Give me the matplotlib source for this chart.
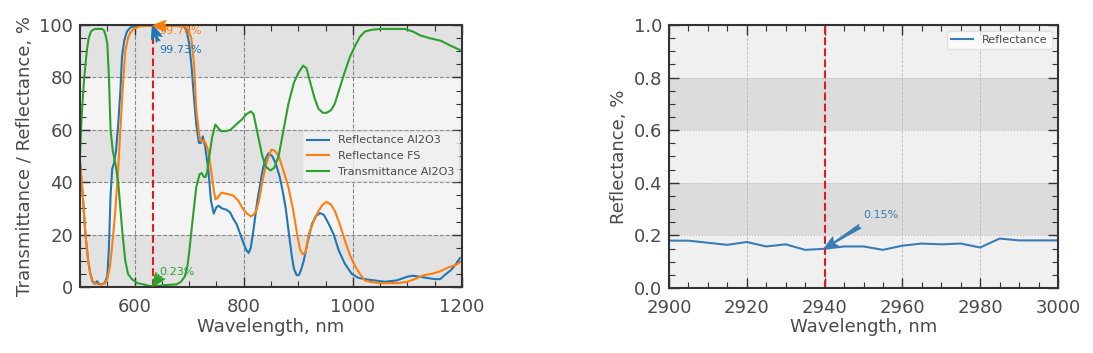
import matplotlib
matplotlib.use("Agg")
import matplotlib.pyplot as plt
from matplotlib.ticker import MultipleLocator

# ---- data: left panel (visible range) ----
wl_r_al = [500, 505, 510, 515, 519, 523, 527, 531, 535, 540, 545, 550, 553, 556, 559, 562, 566,
           570, 574, 577, 581, 586, 592, 598, 610, 630, 660, 690, 695, 700, 704, 709, 713, 718,
           722, 725, 729, 735, 740, 745, 750, 754, 760, 768, 775, 781, 787, 794, 800, 805, 809,
           813, 818, 825, 835, 840, 845, 852, 859, 866, 872, 877, 883, 888, 892, 897, 901, 905,
           910, 917, 925, 932, 940, 947, 956, 965, 974, 985, 998, 1010, 1022, 1040, 1059, 1080,
           1101, 1110, 1120, 1135, 1150, 1160, 1168, 1180, 1190, 1196]
r_al = [48, 35, 20, 10, 5, 2, 1.2, 2.2, 1.2, 1.0, 1.5, 4, 15, 35, 45, 47, 52,
        62, 75, 88, 94, 97.5, 99, 99.5, 99.7, 99.73, 99.7, 99.5, 98, 93, 85, 72, 62, 55,
        55, 57.5, 54, 45, 33, 28, 30.5, 31, 30, 29.5, 28.5, 26, 24, 20, 16.5, 14, 13,
        15, 22, 33, 45, 49, 51, 50, 47, 42, 36, 30, 20, 12, 7, 4.5, 4.5, 6.5,
        10, 17, 24, 27, 28.2, 27.5, 24, 20, 14, 9, 5, 3.5, 3, 2.5, 2, 2.5,
        4, 4.3, 4, 3.5, 3, 3, 4.5, 6.5, 9, 11]

wl_r_fs = [500, 505, 510, 515, 519, 523, 527, 532, 536, 540, 545, 550, 555, 560, 565, 570, 574,
           578, 583, 588, 592, 598, 610, 630, 660, 690, 698, 704, 709, 713, 719, 723, 726, 730,
           735, 740, 745, 748, 752, 759, 770, 780, 790, 798, 806, 813, 818, 823, 828, 834, 840,
           846, 851, 857, 864, 872, 882, 890, 898, 903, 908, 913, 919, 928, 937, 945, 952, 960,
           967, 976, 985, 995, 1004, 1013, 1022, 1035, 1052, 1070, 1083, 1100, 1113, 1130, 1144,
           1160, 1175, 1190, 1196]
r_fs = [48, 35, 20, 10, 5, 2.5, 1.5, 1.2, 1.0, 1.0, 1.2, 3, 8, 18, 30, 45, 60,
        75, 90, 95, 97, 98.5, 99.5, 99.7, 99.7, 99.6, 98.5, 95, 85, 68, 57, 55.5, 56, 55,
        52, 45, 37, 33.5, 34, 36, 35.5, 35, 33, 30, 28, 27, 27.5, 29, 33, 40, 46,
        50, 52.5, 52, 50, 45, 38, 30, 20, 14.5, 12.5, 13, 20, 25, 29, 31.5, 32.5, 31.5,
        29, 24, 18, 12, 8, 5, 2.5, 1.8, 1.5, 1.5, 1.5, 2, 3, 4.5, 5,
        6, 7.5, 8.5, 9.5]

wl_t_al = [500, 503, 507, 510, 513, 516, 520, 525, 529, 535, 540, 544, 547, 550, 553, 556, 560,
           565, 570, 574, 578, 583, 588, 595, 605, 616, 625, 634, 645, 660, 677, 685, 692, 697,
           701, 706, 713, 719, 723, 727, 730, 733, 737, 742, 748, 752, 758, 767, 776, 786, 797,
           805, 813, 818, 822, 828, 834, 840, 849, 856, 864, 873, 882, 892, 901, 909, 915, 922,
           930, 937, 945, 952, 960, 967, 976, 985, 995, 1004, 1013, 1022, 1035, 1052, 1070,
           1095, 1110, 1124, 1140, 1161, 1180, 1196]
t_al = [50, 65, 78, 85, 91, 95, 97.5, 98.3, 98.5, 98.5, 98.5, 98, 96, 93, 80, 60, 52,
        47, 40, 30, 20, 10, 5, 3, 1.5, 1, 0.5, 0.23, 0.5, 0.8, 1, 2, 4, 8,
        15, 25, 38, 43, 43.5, 42, 42, 44, 50, 57, 62, 61, 59.5, 59.5, 60, 62, 64,
        66, 67, 66, 62, 56, 50, 46, 44.5, 45.5, 50, 60, 70, 78, 82, 84.5, 83.5, 78,
        72, 68, 66.5, 66.5, 67.5, 70, 76, 82, 88, 92, 95.5, 97.5, 98.2, 98.5, 98.5,
        98.5, 97.5, 96, 95, 94, 92, 90.5]

# ---- data: right panel (mid-IR) ----
wl_ir = [2900, 2905, 2910, 2915, 2920, 2925, 2930, 2935, 2940, 2945, 2950, 2955, 2960, 2965,
         2970, 2975, 2980, 2985, 2990, 2995, 3000]
r_ir = [0.180, 0.180, 0.172, 0.164, 0.175, 0.158, 0.166, 0.145, 0.149, 0.158, 0.158, 0.145,
        0.161, 0.169, 0.166, 0.169, 0.154, 0.188, 0.181, 0.181, 0.181]

laser_vis = 633
laser_ir = 2940
ann_vis = [("99.70%", 99.70), ("99.73%", 99.73), ("0.23%", 0.23)]
ann_ir = ("0.15%", 0.15)

C_BLUE = "#1f77b4"
C_ORANGE = "#ff7f0e"
C_GREEN = "#2ca02c"
TXT = "#4a4a4a"

plt.rcParams.update({
    "font.family": "DejaVu Sans",
    "text.color": TXT,
    "axes.labelcolor": TXT,
    "xtick.color": "#333333",
    "ytick.color": "#333333",
    "xtick.labelcolor": TXT,
    "ytick.labelcolor": TXT,
})

fig = plt.figure(figsize=(10.93, 3.53), dpi=100)
ax1 = fig.add_axes([80 / 1093, 1 - 287 / 353, 382 / 1093, 262 / 353])
ax2 = fig.add_axes([669 / 1093, 1 - 288 / 353, 389 / 1093, 263 / 353])


def style(ax, bands, light, dark, xmaj, xmin, ymaj, ymin):
    ax.set_facecolor(light)
    for lo, hi in bands:
        ax.axhspan(lo, hi, color=dark, zorder=0, lw=0)
    ax.xaxis.set_major_locator(MultipleLocator(xmaj))
    ax.xaxis.set_minor_locator(MultipleLocator(xmin))
    ax.yaxis.set_major_locator(MultipleLocator(ymaj))
    ax.yaxis.set_minor_locator(MultipleLocator(ymin))
    ax.tick_params(which="both", direction="in", top=True, right=True)
    ax.tick_params(which="major", length=7, width=1.0, labelsize=13, pad=5)
    ax.tick_params(axis="x", which="major", pad=8)
    ax.tick_params(which="minor", length=4, width=0.8)
    for s in ax.spines.values():
        s.set_color("#333333")
        s.set_linewidth(1.5)
    ax.set_axisbelow(True)


# left panel
style(ax1, [(0, 20), (40, 60), (80, 100)], "#f4f4f4", "#e2e2e2", 200, 50, 20, 5)
ax1.grid(True, which="major", axis="both", color="#888888", ls="--", lw=0.8)
ax1.plot(wl_r_al, r_al, color=C_BLUE, lw=1.5, label="Reflectance Al2O3")
ax1.plot(wl_r_fs, r_fs, color=C_ORANGE, lw=1.5, label="Reflectance FS")
ax1.plot(wl_t_al, t_al, color=C_GREEN, lw=1.5, label="Transmittance Al2O3")
ax1.axvline(laser_vis, color="#e31a1c", ls="--", lw=1.5)
ax1.set_xlim(500, 1200)
ax1.set_ylim(0, 100)
ax1.set_xlabel("Wavelength, nm", fontsize=13, labelpad=1)
ax1.set_ylabel("Transmittance / Reflectance, %", fontsize=13)


def arrow(c):
    return dict(arrowstyle="fancy,head_length=0.6,head_width=0.5,tail_width=0.2",
                color=c, lw=0.6, shrinkA=0, shrinkB=0, mutation_scale=16)


ax1.annotate(ann_vis[0][0], xy=(laser_vis, ann_vis[0][1]), xytext=(645, 96.5),
             color=C_ORANGE, fontsize=8, annotation_clip=False,
             arrowprops=dict(relpos=(0.3, 1.0), **arrow(C_ORANGE)))
ax1.annotate(ann_vis[1][0], xy=(laser_vis, ann_vis[1][1]), xytext=(645, 89.5),
             color=C_BLUE, fontsize=8,
             arrowprops=dict(relpos=(0.0, 1.0), **arrow(C_BLUE)))
ax1.annotate(ann_vis[2][0], xy=(laser_vis, ann_vis[2][1]), xytext=(645, 4.5),
             color=C_GREEN, fontsize=8,
             arrowprops=dict(relpos=(0.0, 0.0), **arrow(C_GREEN)))
leg1 = ax1.legend(loc="center right", fontsize=8, frameon=True, fancybox=True,
                  borderaxespad=0.3)
leg1.get_frame().set_facecolor("#f4f4f4")
leg1.get_frame().set_edgecolor("#dddddd")
for t in leg1.get_texts():
    t.set_color(TXT)

# right panel
style(ax2, [(0.2, 0.4), (0.6, 0.8)], "#f0f0f0", "#dcdcdc", 20, 5, 0.2, 0.05)
ax2.grid(True, which="major", axis="x", color="#bbbbbb", ls="--", lw=0.6)
ax2.grid(True, which="major", axis="y", color="#bbbbbb", ls=":", lw=0.8)
ax2.plot(wl_ir, r_ir, color="#3a7db5", lw=1.5, label="Reflectance")
ax2.axvline(laser_ir, color="#e31a1c", ls="--", lw=1.5)
ax2.set_xlim(2900, 3000)
ax2.set_ylim(0, 1.0)
ax2.set_xlabel("Wavelength, nm", fontsize=13, labelpad=1)
ax2.set_ylabel("Reflectance, %", fontsize=13)
ax2.annotate(ann_ir[0], xy=(laser_ir, ann_ir[1]), xytext=(2950, 0.265),
             color="#3a7db5", fontsize=8,
             arrowprops=dict(relpos=(-0.1, -0.6), **arrow("#3a7db5")))
leg2 = ax2.legend(loc="upper right", fontsize=8, frameon=True, fancybox=True)
leg2.get_frame().set_facecolor("white")
leg2.get_frame().set_edgecolor("#dddddd")
for t in leg2.get_texts():
    t.set_color(TXT)

fig.savefig("out.png", dpi=100)
